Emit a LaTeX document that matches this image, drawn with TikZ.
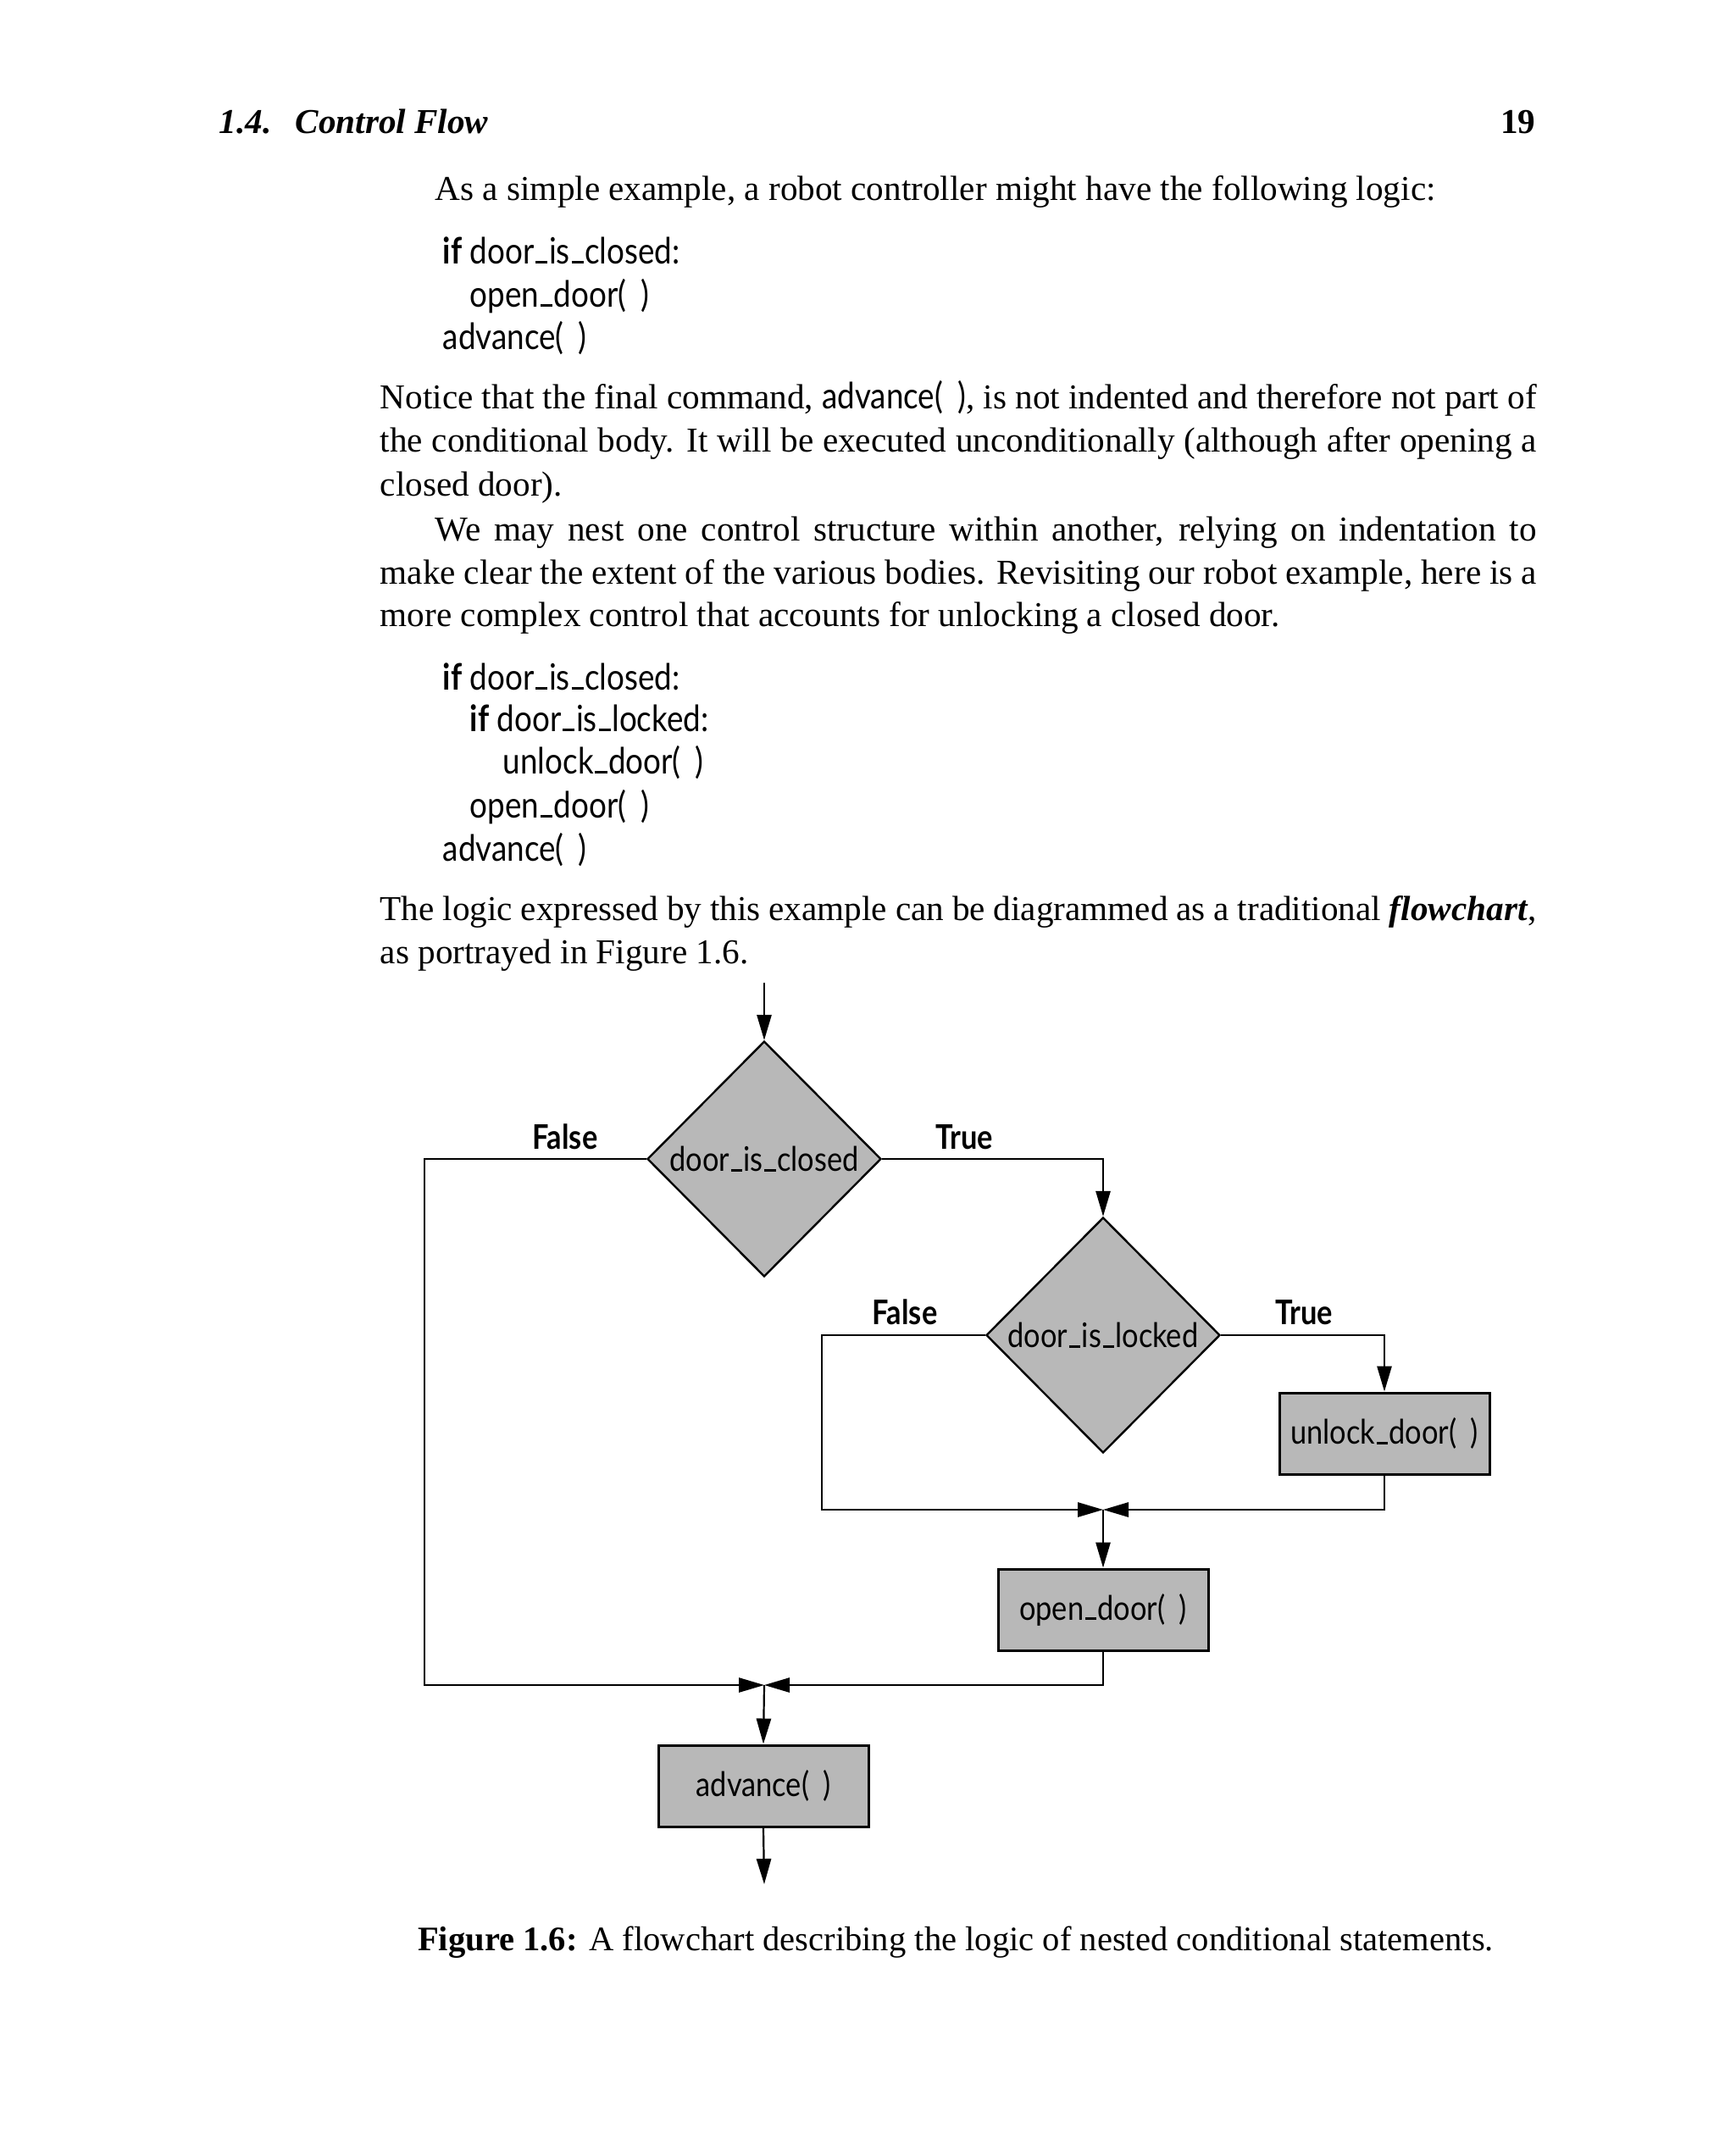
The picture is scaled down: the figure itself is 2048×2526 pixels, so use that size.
\documentclass[tikz,border=0pt]{standalone}
\usepackage{fontspec}
\setmainfont{Liberation Serif}
\newfontfamily\codefont[FakeStretch=0.86]{Lato}
\usetikzlibrary{shapes.geometric,arrows.meta}
\definecolor{boxgray}{RGB}{184,184,184}
\newcommand\bodyfont{\fontsize{10.3}{12.9}\selectfont}
\newcommand\cbody{\codefont\fontsize{10.7}{12}\selectfont}
\newcommand\diagfont{\codefont\fontsize{10}{12}\selectfont}
\newcommand\us{\kern.04em\rule{0.33em}{0.07em}\kern.04em}
\newcommand\pp{(\hspace{0.4em})}
\newcommand\jline[2]{\makebox[#1][s]{#2}}
\begin{document}
\begin{tikzpicture}[x=0.25pt,y=-0.25pt,
  conn/.style={line width=0.55pt},
  arr/.style={conn,-{Triangle[length=7.5pt,width=4.3pt]}},
  dec/.style={diamond,draw,line width=0.6pt,fill=boxgray,minimum width=69pt,minimum height=69.5pt,inner sep=0pt,font=\diagfont},
  proc/.style={rectangle,draw,line width=0.75pt,fill=boxgray,minimum width=62pt,minimum height=24pt,inner sep=0pt,font=\diagfont},
  lbl/.style={font=\diagfont\bfseries,inner sep=0pt},
  bline/.style={anchor=base west,inner sep=0pt,font=\bodyfont},
  cline/.style={anchor=base west,inner sep=0pt,font=\cbody}]
\fill[white] (0,0) rectangle (2048,2526);
\useasboundingbox (0,0) rectangle (2048,2526);
% header
\node[bline] (hd) at (258,158) {\textbf{\textit{1.4.\hspace{7pt}Control Flow}}};
\node[anchor=base east,inner sep=0pt,font=\bodyfont] (pg) at (1813,158) {\textbf{19}};
% text
\node[bline] (t1) at (513,237) {As a simple example, a robot controller might have the following logic:};
\node[cline] (c11) at (522,311) {\textbf{if} door\us is\us closed:};
\node[cline] (c12) at (554,362) {open\us door\pp};
\node[cline] (c13) at (522,412) {advance\pp};
\node[bline] (p21) at (448,482) {\jline{341.25pt}{Notice that the final command, {\cbody advance\pp}, is not indented and therefore not part of}};
\node[bline] (p22) at (448,533) {\jline{341.25pt}{the conditional body. It will be executed unconditionally (although after opening a}};
\node[bline] (p23) at (448,585) {closed door).};
\node[bline] (p31) at (513,638) {\jline{325pt}{We may nest one control structure within another, relying on indentation to}};
\node[bline] (p32) at (448,689) {\jline{341.25pt}{make clear the extent of the various bodies. Revisiting our robot example, here is a}};
\node[bline] (p33) at (448,739) {more complex control that accounts for unlocking a closed door.};
\node[cline] (c21) at (522,814) {\textbf{if} door\us is\us closed:};
\node[cline] (c22) at (554,863) {\textbf{if} door\us is\us locked:};
\node[cline] (c23) at (593,913) {unlock\us door\pp};
\node[cline] (c24) at (554,965) {open\us door\pp};
\node[cline] (c25) at (522,1016) {advance\pp};
\node[bline] (p41) at (448,1086) {\jline{341.25pt}{The logic expressed by this example can be diagrammed as a traditional \textbf{\textit{flowchart}},}};
\node[bline] (p42) at (448,1137) {as portrayed in Figure 1.6.};
% flowchart
\coordinate (start) at (902,1160);
\node[dec] (d1) at (902,1368) {door\us is\us closed};
\node[dec] (d2) at (1302,1576) {door\us is\us locked};
\node[proc] (u) at (1634,1692) {\raisebox{0.8pt}{unlock\us door\pp}};
\node[proc] (o) at (1302,1900) {\raisebox{0.8pt}{open\us door\pp}};
\node[proc] (a) at (901,2108) {\raisebox{0.8pt}{advance\pp}};
\coordinate (j1) at (1302,1782);
\coordinate (j2) at (902,1989);
\coordinate (fin) at (902,2224);
\node[lbl] (f1) at (667,1342) {False};
\node[lbl] (tr1) at (1138,1342) {True};
\node[lbl] (f2) at (1068,1549) {False};
\node[lbl] (tr2) at (1539,1549) {True};
\draw[arr] (start) -- (d1.north);
\draw[arr] (d1.west) -| (501,1989) -- (j2);
\draw[arr] (d1.east) -| (d2.north);
\draw[arr] (d2.west) -| (970,1782) -- (j1);
\draw[arr] (d2.east) -| (u.north);
\draw[arr] (u.south) |- (j1);
\draw[arr] (j1) -- (o.north);
\draw[arr] (o.south) |- (j2);
\draw[arr] (j2) -- (a.north);
\draw[arr] (a.south) -- (fin);
% caption
\node[anchor=base,inner sep=0pt,font=\fontsize{10.15}{12.9}\selectfont] (cap) at (1128,2302) {\textbf{Figure 1.6:} A flowchart describing the logic of nested conditional statements.};
\end{tikzpicture}
\end{document}
